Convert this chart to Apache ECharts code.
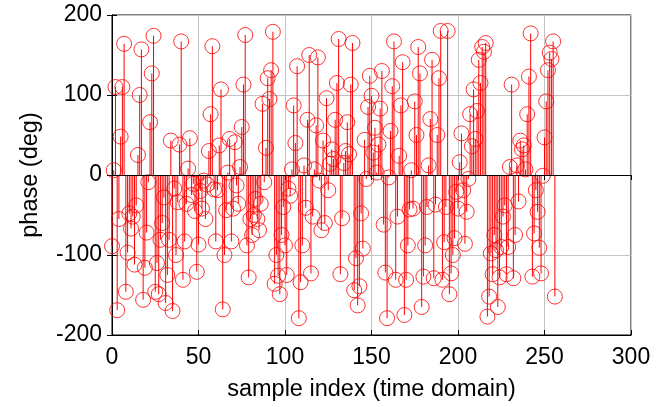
<!DOCTYPE html>
<html>
<head>
<meta charset="utf-8">
<script src="https://cdn.jsdelivr.net/npm/echarts@6/dist/echarts.min.js"></script>
<style>
html,body{margin:0;padding:0;background:#fff;}
#c{width:658px;height:407px;}
</style>
</head>
<body>
<div id="c"></div>
<script>
// phase values (deg), sample index 0..256
const phaseDeg = [
-89,6,110,-169,-55,48,110,164,-146,-97,
-48,-67,-52,-112,-38,25,100,157,-156,-116,
-72,-9,66,127,174,-146,-110,-149,-81,-60,
-28,-160,-125,-81,43,-170,-17,-100,-34,38,
167,-131,-83,-36,8,46,-25,-11,-45,-121,
-87,-20,-42,-7,-55,-12,30,76,161,-18,
-83,-19,37,107,-168,-100,-44,3,45,-83,
-42,41,-13,-36,10,60,113,175,-88,-128,
-55,-75,-50,-30,-55,-69,-36,89,-9,34,
121,95,131,179,-136,-100,-126,-149,-75,-40,
-88,-125,-17,-26,7,87,40,136,-179,-134,
-88,12,-41,69,150,-123,-52,7,62,147,
-7,-69,43,-60,96,-19,14,32,20,69,
115,170,-124,-54,15,30,66,26,113,165,
-144,-104,-163,-139,-48,-92,44,-5,85,124,
99,28,59,3,38,83,130,-62,-122,-179,
-3,55,111,167,-131,-52,24,87,141,-175,
-131,-88,-43,6,-42,92,50,160,127,-165,
-127,-88,-40,12,70,144,-129,-37,50,121,
180,-131,-84,-40,180,-149,-123,-100,-79,-21,
-42,16,52,-19,-86,-46,-5,76,36,107,
45,80,144,115,160,154,165,-177,-152,-98,
-124,-75,-94,-165,-128,-90,-52,-38,-124,-90,
10,113,-129,-75,12,-33,43,32,37,7,
76,123,177,-127,-73,-19,-46,-91,-123,-1,
47,92,131,153,145,167,-152
];
const sampleIndex = phaseDeg.map((_, i) => i);
const xTicks = [0, 50, 100, 150, 200, 250, 300];
const yTicks = [-200, -100, 0, 100, 200];
const xLabel = 'sample index (time domain)';
const yLabel = 'phase (deg)';

const pts = sampleIndex.map((x, i) => [x, phaseDeg[i]]);
const font = 'Liberation Sans, Arial, sans-serif';
const chart = echarts.init(document.getElementById('c'), null, {renderer: 'canvas'});
const tickStyle = {show: true, inside: true, length: 5, lineStyle: {color: '#000', width: 1}};
chart.setOption({
  animation: false,
  backgroundColor: '#fff',
  grid: {left: 112, right: 27, top: 15, bottom: 68, show: true, borderColor: '#000', borderWidth: 1, containLabel: false},
  xAxis: [{
    type: 'value', min: xTicks[0], max: xTicks[xTicks.length - 1], interval: 50,
    name: xLabel, nameLocation: 'middle', nameGap: 43,
    nameTextStyle: {fontFamily: font, fontSize: 23.5, color: '#000'},
    axisLine: {show: true, onZero: false, lineStyle: {color: '#000', width: 1}},
    axisTick: tickStyle,
    axisLabel: {fontFamily: font, fontSize: 23, color: '#000', margin: 11},
    splitLine: {show: true, lineStyle: {color: '#c4c4c4', width: 1}}
  }, {
    type: 'value', position: 'top', min: xTicks[0], max: xTicks[xTicks.length - 1], interval: 50,
    axisLine: {show: true, lineStyle: {color: '#000'}}, axisTick: tickStyle,
    axisLabel: {show: false}, splitLine: {show: false}
  }],
  yAxis: [{
    type: 'value', min: yTicks[0], max: yTicks[yTicks.length - 1], interval: 100,
    name: yLabel, nameLocation: 'middle', nameGap: 69,
    nameTextStyle: {fontFamily: font, fontSize: 23.5, color: '#000'},
    axisLine: {show: true, onZero: false, lineStyle: {color: '#000', width: 1}},
    axisTick: tickStyle,
    axisLabel: {fontFamily: font, fontSize: 23, color: '#000', margin: 10},
    splitLine: {show: true, lineStyle: {color: '#c4c4c4', width: 1}}
  }, {
    type: 'value', position: 'right', min: yTicks[0], max: yTicks[yTicks.length - 1], interval: 100,
    axisLine: {show: true, lineStyle: {color: '#000'}}, axisTick: tickStyle,
    axisLabel: {show: false}, splitLine: {show: false}
  }],
  series: [{
    type: 'bar', data: pts, barWidth: 1, itemStyle: {color: '#ff0000'},
    silent: true, z: 2,
    markLine: {
      silent: true, symbol: 'none', label: {show: false},
      lineStyle: {color: '#000', width: 1, type: 'solid'},
      data: [{yAxis: 0}]
    }
  }, {
    type: 'scatter', data: pts, symbol: 'circle', symbolSize: 15,
    itemStyle: {color: 'rgba(0,0,0,0)', borderColor: '#ff0000', borderWidth: 1},
    silent: true, z: 3
  }]
});
</script>
</body>
</html>
